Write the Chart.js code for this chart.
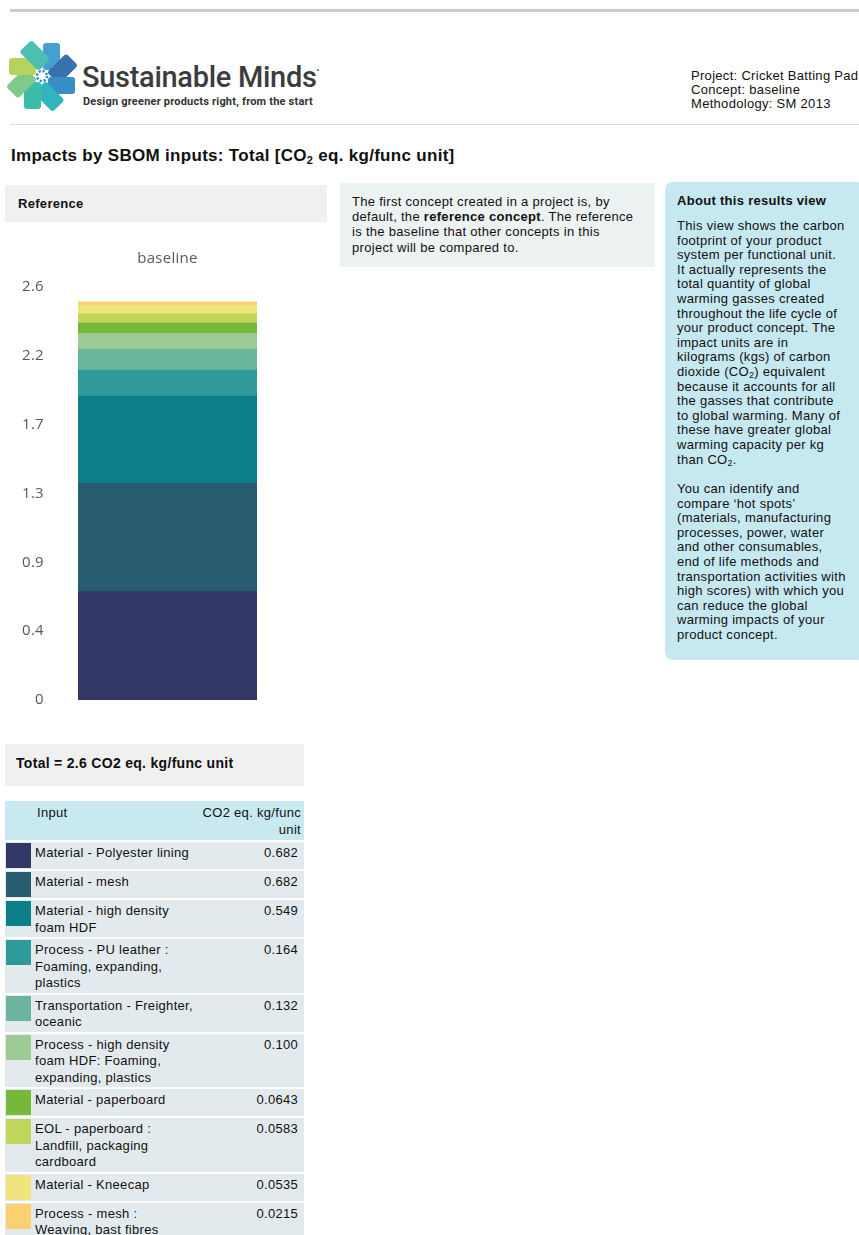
<!DOCTYPE html>
<html>
<head>
<meta charset="utf-8">
<script src="https://cdn.jsdelivr.net/npm/chart.js@4.4.0/dist/chart.umd.min.js"></script>
<style>
  body { margin: 0; width: 859px; height: 1235px; position: relative; overflow: hidden; background: #fff;
         font-family: "Liberation Sans", Arial, sans-serif; color: #111; letter-spacing: 0.3px; }
  .abs { position: absolute; }
  .topline { left: 10px; top: 9px; width: 849px; height: 3px; background: #cbcbcb; }
  .sepline { left: 10px; top: 124px; width: 849px; height: 1px; background: #dcdcdc; }
  .brand { left: 82px; top: 62px; font-family: Roboto, sans-serif; font-weight: 500; font-size: 29px; color: #3b3c3e; letter-spacing: -0.3px; line-height: 30px; white-space: nowrap; }
  .brand sup { font-size: 8px; vertical-align: 14px; line-height: 0; }
  .tagline { left: 83px; top: 96px; font-family: Roboto, sans-serif; font-weight: bold; font-size: 11px; line-height: 12px; color: #333; letter-spacing: 0.2px; white-space: nowrap; }
  .meta { left: 691px; top: 69px; font-size: 13px; line-height: 14px; color: #111; white-space: nowrap; }
  .title { left: 11px; top: 146px; font-size: 17px; font-weight: bold; white-space: nowrap; }
  .title sub { font-size: 11px; vertical-align: -3px; line-height: 0; }
  .refbox { left: 5px; top: 185px; width: 322px; height: 37px; background: #f0f0f0; }
  .refbox span { position: absolute; left: 13px; top: 11px; font-size: 13px; font-weight: bold; }
  .midbox { left: 340px; top: 183px; width: 315px; height: 84px; background: #edf2f3; }
  .midbox div { position: absolute; left: 12px; top: 11px; font-size: 13px; line-height: 15.2px; white-space: nowrap; color: #111; }
  .about { left: 665px; top: 182px; width: 200px; height: 478px; background: #c6e8f0; border-radius: 8px; }
  .about h4 { position: absolute; left: 12px; top: 11px; margin: 0; font-size: 13px; line-height: 16px; }
  .about p { position: absolute; left: 12px; margin: 0; font-size: 13px; line-height: 14.6px; white-space: nowrap; color: #111; }
  .about sub { font-size: 9px; vertical-align: -2px; line-height: 0; }
  #chartWrap { left: 5px; top: 240px; width: 322px; height: 503px; }
  .totalbox { left: 5px; top: 744px; width: 299px; height: 42px; background: #f0f0f0; }
  .totalbox span { position: absolute; left: 11px; top: 11px; font-size: 14px; font-weight: bold; }
  #table { left: 5px; top: 801px; width: 299px; }
  .thead { position: relative; height: 39px; background: #c9e9f1; font-size: 13px; line-height: 17px; }
  .thead .c1 { position: absolute; left: 32px; top: 3px; }
  .thead .c2 { position: absolute; right: 3px; top: 3px; text-align: right; }
  .row { position: relative; margin-top: 2px; background: #e3eaee; box-sizing: border-box; min-height: 27px;
         padding: 3px 0 1px; font-size: 13px; line-height: 16.5px; }
  .row .sw { position: absolute; left: 1px; top: 1px; width: 25px; height: 25px; }
  .row .name { margin-left: 30px; width: 160px; }
  .row .val { position: absolute; right: 6px; top: 3px; }
</style>
</head>
<body>
<div class="abs topline"></div>

<svg class="abs" style="left:6px;top:40px" width="72" height="72" viewBox="-36 -36 72 72">
  <g opacity="0.88">
    <rect x="1" y="-33" width="17" height="27" rx="3" fill="#2b93c9" transform="rotate(0)"/>
    <rect x="1" y="-33" width="17" height="27" rx="3" fill="#1d5fa3" transform="rotate(45)"/>
    <rect x="1" y="-33" width="17" height="27" rx="3" fill="#1c7fbd" transform="rotate(90)"/>
    <rect x="1" y="-33" width="17" height="27" rx="3" fill="#17a9b8" transform="rotate(135)"/>
    <rect x="1" y="-33" width="17" height="27" rx="3" fill="#22b49d" transform="rotate(180)"/>
    <rect x="1" y="-33" width="17" height="27" rx="3" fill="#70c17d" transform="rotate(225)"/>
    <rect x="1" y="-33" width="17" height="27" rx="3" fill="#a9d04a" transform="rotate(270)"/>
    <rect x="1" y="-33" width="17" height="27" rx="3" fill="#35b6a8" transform="rotate(315)"/>
  </g>
  <circle r="6" fill="#fff"/>
  <circle r="5" fill="none" stroke="#2a86c4" stroke-width="2.4" stroke-dasharray="2.2 1.7"/>
  <circle r="2.5" fill="#fff"/>
</svg>
<div class="abs brand">Sustainable Minds<sup>&#8226;</sup></div>
<div class="abs tagline">Design greener products right, from the start</div>

<div class="abs meta">Project: Cricket Batting Pad<br>Concept: baseline<br>Methodology: SM 2013</div>
<div class="abs sepline"></div>

<div class="abs title">Impacts by SBOM inputs: Total [CO<sub>2</sub> eq. kg/func unit]</div>

<div class="abs refbox"><span>Reference</span></div>
<div class="abs" id="chartWrap"><canvas id="chart" width="322" height="503"></canvas></div>

<div class="abs midbox"><div>The first concept created in a project is, by<br>default, the <b>reference concept</b>. The reference<br>is the baseline that other concepts in this<br>project will be compared to.</div></div>

<div class="abs about">
  <h4>About this results view</h4>
  <p style="top:37px">This view shows the carbon<br>footprint of your product<br>system per functional unit.<br>It actually represents the<br>total quantity of global<br>warming gasses created<br>throughout the life cycle of<br>your product concept. The<br>impact units are in<br>kilograms (kgs) of carbon<br>dioxide (CO<sub>2</sub>) equivalent<br>because it accounts for all<br>the gasses that contribute<br>to global warming. Many of<br>these have greater global<br>warming capacity per kg<br>than CO<sub>2</sub>.</p>
  <p style="top:300px">You can identify and<br>compare ‘hot spots’<br>(materials, manufacturing<br>processes, power, water<br>and other consumables,<br>end of life methods and<br>transportation activities with<br>high scores) with which you<br>can reduce the global<br>warming impacts of your<br>product concept.</p>
</div>

<div class="abs totalbox"><span>Total = 2.6 CO2 eq. kg/func unit</span></div>
<div class="abs" id="table">
  <div class="thead"><span class="c1">Input</span><span class="c2">CO2 eq. kg/func<br>unit</span></div>
</div>

<script>
const categories = ['baseline'];
const inputs = [
  'Material - Polyester lining',
  'Material - mesh',
  'Material - high density foam HDF',
  'Process - PU leather : Foaming, expanding, plastics',
  'Transportation - Freighter, oceanic',
  'Process - high density foam HDF: Foaming, expanding, plastics',
  'Material - paperboard',
  'EOL - paperboard : Landfill, packaging cardboard',
  'Material - Kneecap',
  'Process - mesh : Weaving, bast fibres'
];
const values = [0.682, 0.682, 0.549, 0.164, 0.132, 0.100, 0.0643, 0.0583, 0.0535, 0.0215];
const colors = ['#323766', '#285c70', '#0c7f8a', '#2e9b9a', '#6bb59e', '#9ccc94', '#76b83b', '#c0d65b', '#f2e47c', '#fbd071'];
const yTickLabels = ['0', '0.4', '0.9', '1.3', '1.7', '2.2', '2.6'];
const yMax = 2.6;

// table of inputs
const table = document.getElementById('table');
inputs.forEach((name, i) => {
  const row = document.createElement('div');
  row.className = 'row';
  row.innerHTML = '<div class="sw" style="background:' + colors[i] + '"></div>' +
    '<div class="name">' + name + '</div>' +
    '<div class="val">' + values[i].toPrecision(3) + '</div>';
  table.appendChild(row);
});

const tickFont = { family: '"Open Sans", sans-serif', size: 15 };

new Chart(document.getElementById('chart'), {
  type: 'bar',
  data: {
    labels: categories,
    datasets: inputs.map((name, i) => ({
      label: name,
      data: [values[i]],
      backgroundColor: colors[i],
      borderWidth: 0,
      barPercentage: 1,
      categoryPercentage: 1
    }))
  },
  options: {
    responsive: false,
    animation: false,
    layout: { padding: { left: 0, right: 70, top: 0, bottom: 16 } },
    plugins: { legend: { display: false }, tooltip: { enabled: false } },
    scales: {
      x: {
        stacked: true,
        position: 'top',
        grid: { display: false, drawTicks: false },
        border: { display: false },
        ticks: { padding: 19, font: tickFont, color: '#595959' },
        afterFit: s => { s.height = 47; }
      },
      y: {
        stacked: true,
        min: 0,
        max: yMax,
        grid: { display: false, drawTicks: false },
        border: { display: false },
        afterBuildTicks: s => {
          s.ticks = yTickLabels.map((l, i) => ({ value: yMax * i / (yTickLabels.length - 1) }));
        },
        ticks: { padding: 34, font: tickFont, color: '#595959', callback: (v, i) => yTickLabels[i] },
        afterFit: s => { s.width = 73; }
      }
    }
  }
});
</script>
</body>
</html>
